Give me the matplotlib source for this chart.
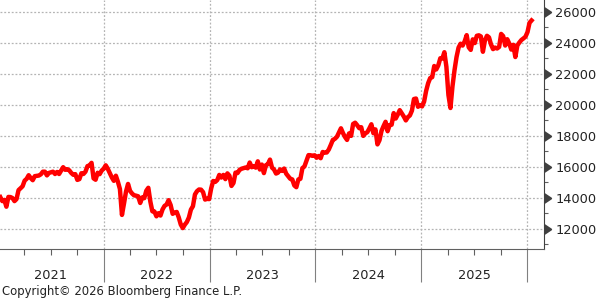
import numpy as np
import pandas as pd
import matplotlib
matplotlib.use("Agg")
import matplotlib.pyplot as plt
import matplotlib.dates as mdates
from matplotlib.transforms import blended_transform_factory

# weekly closes (Fridays from 2021-01-08)
vals_2021 = [14050, 13790, 13870, 13430, 14060, 14050, 13990, 13790, 13920, 14500, 14620, 14750,
             15110, 15230, 15460, 15280, 15140, 15400, 15420, 15440, 15520, 15690, 15690, 15450,
             15610, 15650, 15690, 15540, 15670, 15540, 15760, 15980, 15810, 15850, 15780, 15610,
             15490, 15530, 15160, 15210, 15590, 15540, 15690, 16050, 16090, 16260, 15260, 15170,
             15620, 15530, 15760, 15880]
vals_2022 = [16100, 15880, 15600, 15320, 15100, 15430, 15040, 14570, 12900, 13630, 14410, 14900,
             14450, 14280, 14160, 14140, 14100, 13670, 14030, 13980, 14460, 14650, 13760, 13130,
             13120, 12810, 13010, 12860, 13250, 13480, 13570, 13850, 13540, 12970, 13050, 13090,
             12740, 12280, 12050, 12270, 12440, 12730, 13240, 13460, 14220, 14430, 14540, 14530,
             14370, 13890, 13940, 13920]
vals_2023 = [14610, 15090, 15030, 15150, 15480, 15310, 15480, 15210, 15580, 15430, 14770, 14960,
             15630, 15600, 15810, 15880, 15920, 15960, 15910, 16280, 15980, 16050, 15950, 16360,
             15830, 16150, 15600, 16110, 16180, 16470, 15950, 15830, 15570, 15630, 15840, 15740,
             15890, 15560, 15390, 15230, 15190, 14800, 14690, 15190, 15230, 15920, 16030, 16400,
             16760, 16750, 16710, 16750]
vals_2024 = [16590, 16700, 16560, 16960, 16920, 16930, 17120, 17420, 17740, 17810, 17940, 18210,
             18490, 18180, 17930, 17740, 18160, 18000, 18770, 18850, 18690, 18500, 18560, 18000,
             18160, 18240, 18480, 18750, 18170, 18420, 17450, 17720, 18320, 18630, 18910, 18300,
             18700, 18720, 19470, 19120, 19370, 19660, 19460, 19250, 19000, 19210, 19320, 19630,
             20380, 20410, 19880, 19980]
vals_2025 = [19900, 20210, 20900, 21400, 21730, 21790, 22510, 22290, 22550, 23010, 22990, 23400,
             22460, 20640, 19800, 21200, 22240, 23090, 23700, 23950, 23830, 24100, 24500, 23720,
             23550, 24230, 23990, 24460, 24490, 24420, 23430, 24160, 24460, 24360, 23900, 23600,
             23700, 23640, 23740, 24580, 24440, 23830, 24240, 23960, 23570, 23880, 23090, 23840,
             24030, 24190, 24290, 24400]
vals_2026 = [24700, 25300, 25450]

values = vals_2021 + vals_2022 + vals_2023 + vals_2024 + vals_2025 + vals_2026
dates = pd.date_range("2021-01-08", periods=len(values), freq="W-FRI")

years = [2021, 2022, 2023, 2024, 2025]
yticks = [12000, 14000, 16000, 18000, 20000, 22000, 24000, 26000]
copyright_text = "Copyright\u00a9 2026 Bloomberg Finance L.P."

fig = plt.figure(figsize=(6, 3), dpi=100)
ax = fig.add_axes([0.0, 0.17, 0.9067, 0.83])

ax.plot(dates, values, color="#ff0000", lw=3.2, solid_joinstyle="round", zorder=3)

ax.set_xlim(pd.Timestamp("2021-01-07"), pd.Timestamp("2026-02-28"))
ax.set_ylim(10700, 26770)

# spines
for s in ["left", "top"]:
    ax.spines[s].set_visible(False)
ax.spines["bottom"].set_color("#606060")
ax.spines["right"].set_color("#404040")

# x axis: long ticks at year starts, short ones at quarters
ax.xaxis.set_major_locator(mdates.YearLocator())
ax.xaxis.set_minor_locator(mdates.MonthLocator(bymonth=[4, 7, 10]))
ax.xaxis.set_major_formatter(plt.NullFormatter())
ax.tick_params(axis="x", which="major", length=24, width=0.8, color="#808080")
ax.tick_params(axis="x", which="minor", length=4, width=0.8, color="#606060")

# y axis on the right
ax.yaxis.tick_right()
ax.set_yticks(yticks)
ax.set_yticklabels([str(v) for v in yticks])
ax.yaxis.set_minor_locator(matplotlib.ticker.MultipleLocator(1000))
ax.tick_params(axis="y", which="major", length=0, pad=8, labelsize=9.3, labelcolor="#222222")
ax.tick_params(axis="y", which="minor", length=3, width=0.8, color="#606060", right=True, left=False)

# triangle markers at the major y ticks
trans_y = blended_transform_factory(ax.transAxes, ax.transData)
ax.scatter([1.0] * len(yticks), yticks, marker=9, s=40, color="#404040",
           transform=trans_y, clip_on=False, zorder=5)

# dotted grid
ax.grid(True, which="major", axis="both", linestyle=(0, (1.5, 1.5)), color="#b4b4b4", lw=0.9)
ax.set_axisbelow(True)

# year labels centred under each year
trans_x = blended_transform_factory(ax.transData, ax.transAxes)
for yr in years:
    mid = pd.Timestamp(f"{yr}-07-02")
    ax.text(mid, -0.105, str(yr), transform=trans_x, ha="center", va="center",
            fontsize=9.3, color="#222222")

fig.text(0.003, 0.027, copyright_text, ha="left", va="center", fontsize=8.4, color="#222222")

fig.savefig("out.png", dpi=100)
